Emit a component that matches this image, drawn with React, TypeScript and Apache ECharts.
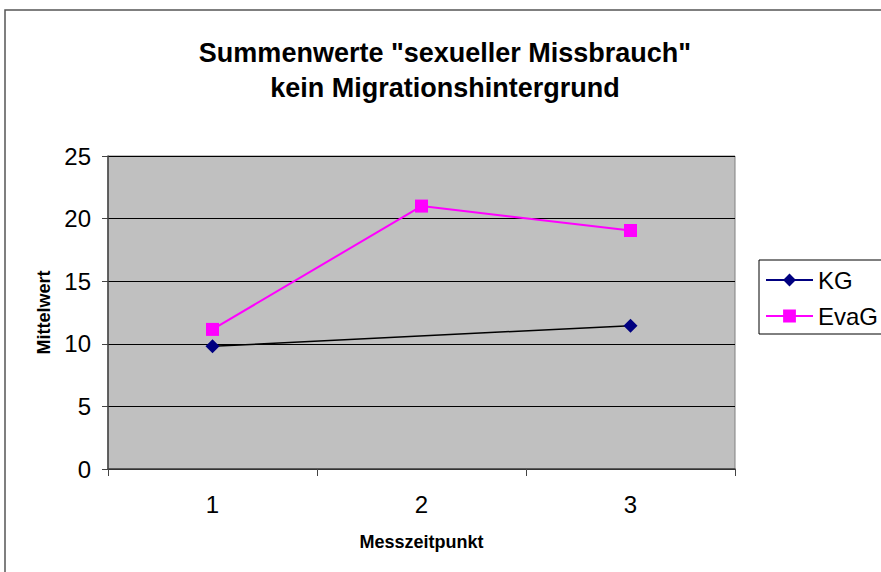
import React, { useEffect, useRef } from "react";
import * as echarts from "echarts";

const categories = ["1", "2", "3"];
const kgValues: (number | null)[] = [9.8, null, 11.45];
const evagValues: number[] = [11.15, 21.0, 19.05];
const titleLines = ['Summenwerte "sexueller Missbrauch"', "kein Migrationshintergrund"];

export default function App() {
  const ref = useRef<HTMLDivElement>(null);
  useEffect(() => {
    if (!ref.current) return;
    const chart = echarts.init(ref.current, null, { renderer: "svg" });
    const font = "Liberation Sans, Arial, sans-serif";
    chart.setOption({
      animation: false,
      backgroundColor: "#fff",
      textStyle: { fontFamily: font },
      title: {
        text: titleLines.join("\n"),
        left: 440,
        textAlign: "center",
        top: 30,
        textStyle: { fontSize: 27, fontWeight: "bold", color: "#000", lineHeight: 35, fontFamily: font },
      },
      graphic: [
        {
          type: "rect",
          shape: { x: 5, y: 10, width: 1000, height: 700 },
          style: { fill: "none", stroke: "#555", lineWidth: 1.5 },
          silent: true,
        },
      ],
      legend: {
        orient: "vertical",
        left: 759,
        top: 260,
        padding: [8, 4, 6, 6],
        itemGap: 12,
        itemWidth: 47,
        itemHeight: 16,
        borderColor: "#000",
        borderWidth: 1,
        textStyle: { fontSize: 24, color: "#000", fontFamily: font },
        data: [
          { name: "KG", itemStyle: { color: "#000080" }, lineStyle: { color: "#000080", width: 2 } },
          { name: "EvaG", itemStyle: { color: "#FF00FF" }, lineStyle: { color: "#FF00FF", width: 2 } },
        ],
      },
      grid: {
        left: 108,
        top: 156,
        width: 627,
        height: 313,
        show: true,
        backgroundColor: "#C0C0C0",
        borderColor: "#808080",
        borderWidth: 1,
      },
      xAxis: {
        type: "category",
        data: categories,
        boundaryGap: true,
        name: "Messzeitpunkt",
        nameLocation: "middle",
        nameGap: 64,
        nameTextStyle: { fontSize: 18, fontWeight: "bold", color: "#000", fontFamily: font },
        axisLine: { lineStyle: { color: "#444", width: 1.5 } },
        axisTick: { show: true, length: 7, lineStyle: { color: "#444" } },
        axisLabel: { fontSize: 24, color: "#000", margin: 23, fontFamily: font },
        splitLine: { show: false },
      },
      yAxis: {
        type: "value",
        min: 0,
        max: 25,
        interval: 5,
        name: "Mittelwert",
        nameLocation: "middle",
        nameGap: 55,
        nameRotate: 90,
        nameTextStyle: { fontSize: 18, fontWeight: "bold", color: "#000", fontFamily: font },
        axisLine: { show: true, lineStyle: { color: "#444", width: 1.5 } },
        axisTick: { show: true, length: 6, lineStyle: { color: "#444" } },
        axisLabel: { fontSize: 24, color: "#000", margin: 17, fontFamily: font },
        splitLine: { show: true, lineStyle: { color: "#000", width: 1 } },
      },
      series: [
        {
          name: "KG",
          type: "line",
          data: kgValues,
          connectNulls: true,
          symbol: "diamond",
          symbolSize: 14,
          itemStyle: { color: "#000080" },
          lineStyle: { color: "#000", width: 1.5 },
          z: 3,
        },
        {
          name: "EvaG",
          type: "line",
          data: evagValues,
          symbol: "rect",
          symbolSize: 13,
          itemStyle: { color: "#FF00FF" },
          lineStyle: { color: "#FF00FF", width: 2 },
          z: 4,
        },
      ],
    });
    return () => chart.dispose();
  }, []);
  return (
    <div
      ref={ref}
      style={{ position: "fixed", left: 0, top: 0, width: 881, height: 572 }}
    />
  );
}
